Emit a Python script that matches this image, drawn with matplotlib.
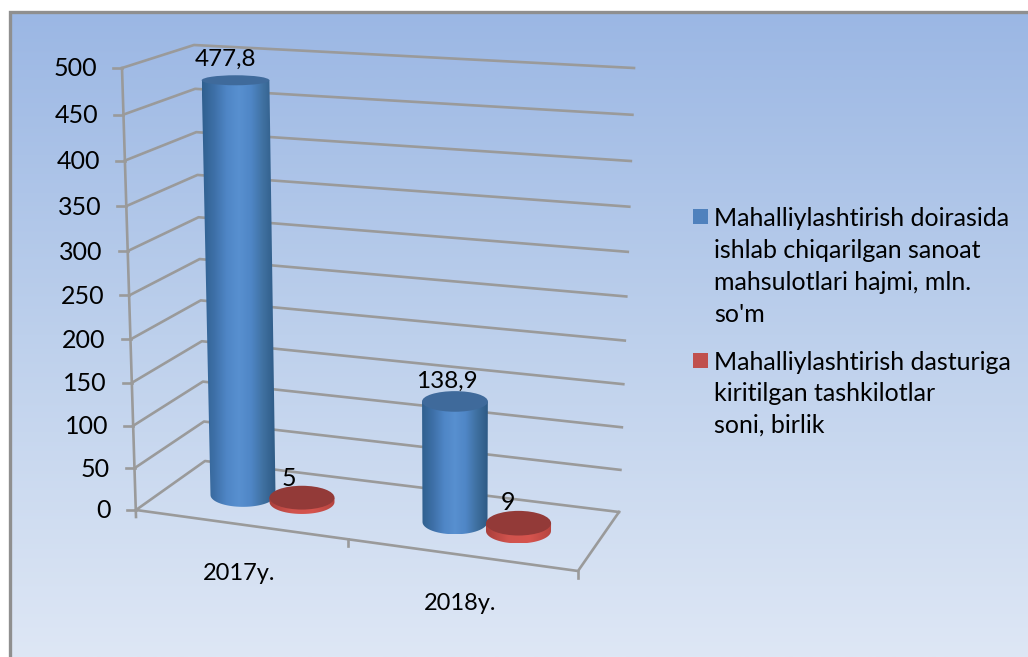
import numpy as np
import matplotlib
matplotlib.use('Agg')
import matplotlib.pyplot as plt
from matplotlib.colors import LinearSegmentedColormap
from matplotlib.patches import Ellipse, PathPatch, Rectangle
from matplotlib.path import Path

plt.rcParams['font.family'] = ['Lato', 'DejaVu Sans']

# chart values
years = ['2017y.', '2018y.']
volume = [477.8, 138.9]
orgs = [5, 9]
volume_labels = ['477,8', '138,9']
orgs_labels = ['5', '9']
ticks = [0, 50, 100, 150, 200, 250, 300, 350, 400, 450, 500]
legend_volume = ['Mahalliylashtirish doirasida', 'ishlab chiqarilgan sanoat',
                 'mahsulotlari hajmi, mln.', "so'm"]
legend_orgs = ['Mahalliylashtirish dasturiga', 'kiritilgan tashkilotlar', 'soni, birlik']

# layout of the fake 3d box, in pixels
W, H = 1028, 657
FRONT_LEFT = ((136, 510), (122, 68))
BACK_LEFT = ((205, 461), (194, 45))
BACK_RIGHT = ((619, 512), (634, 68))
FRONT_RIGHT = (578, 571)
GRID = '#9A9A9A'
GRID_LW = 1.9
PX_PER_UNIT = 0.868
VANISH_X = 460
PERSPECTIVE = 1.06
FONT = 18


def on_edge(edge, value):
    # the walls are seen in perspective, so upper gridlines sit further apart
    t = value / ticks[-1]
    t = t / (t + PERSPECTIVE * (1 - t))
    return (edge[0][0] + (edge[1][0] - edge[0][0]) * t,
            edge[0][1] + (edge[1][1] - edge[0][1]) * t)


def ry_at(y):
    return 5 + (y - 80) * 0.0165


def cylinder(ax, base_x, base_y, value, rx, side_cmap, top_color, zorder):
    height = value * PX_PER_UNIT
    top_y = base_y - height
    top_x = base_x + (base_x - VANISH_X) * height * 8.3e-5
    top_rx = rx * (1 + height * 1e-4)
    ry_b = ry_at(base_y)
    ry_t = ry_at(top_y)

    # side of the cylinder: straight edges and the lower half of the base ellipse
    a = np.linspace(np.pi, 2 * np.pi, 40)
    xs = base_x + rx * np.cos(a)
    ys = base_y - ry_b * np.sin(a)
    verts = [(top_x - top_rx, top_y)] + list(zip(xs, ys)) + [(top_x + top_rx, top_y), (top_x - top_rx, top_y)]
    codes = [Path.MOVETO] + [Path.LINETO] * (len(verts) - 2) + [Path.CLOSEPOLY]
    side = PathPatch(Path(verts, codes), facecolor='none', edgecolor='none', transform=ax.transData)
    ax.add_patch(side)
    left = min(top_x - top_rx, base_x - rx)
    right = max(top_x + top_rx, base_x + rx)
    im = ax.imshow(np.linspace(0, 1, 128).reshape(1, -1), cmap=side_cmap, aspect='auto',
                   extent=(left, right, base_y + ry_b, top_y), zorder=zorder, interpolation='bilinear')
    im.set_clip_path(side)
    ax.add_patch(Ellipse((top_x, top_y), 2 * top_rx, 2 * ry_t, facecolor=top_color,
                         edgecolor='none', zorder=zorder + 0.1))


def main():
    fig = plt.figure(figsize=(W / 100, H / 100), dpi=100, facecolor='white')
    ax = fig.add_axes([0, 0, 1, 1])

    bg = LinearSegmentedColormap.from_list('bg', ['#9BB7E4', '#BDD0EC', '#DEE7F5'])
    ax.imshow(np.linspace(0, 1, 256).reshape(-1, 1), cmap=bg, aspect='auto',
              extent=(10, W, H, 12), zorder=0)
    ax.plot([10, 10, W], [H, 12, 12], color='#8F8F8F', lw=2.4, zorder=1, solid_joinstyle='miter')

    # walls, gridlines, ticks
    for v in ticks:
        p0 = on_edge(FRONT_LEFT, v)
        p1 = on_edge(BACK_LEFT, v)
        p2 = on_edge(BACK_RIGHT, v)
        ax.plot([p0[0], p1[0], p2[0]], [p0[1], p1[1], p2[1]], color=GRID, lw=GRID_LW, zorder=2)
        ax.plot([p0[0] - 9, p0[0]], [p0[1], p0[1]], color=GRID, lw=GRID_LW, zorder=2)
        ax.text(p0[0] - 25, p0[1] + 1, str(v), ha='right', va='center', fontsize=FONT, color='black', zorder=9)
    ax.plot([FRONT_LEFT[0][0], FRONT_LEFT[1][0]], [FRONT_LEFT[0][1] + 7, FRONT_LEFT[1][1]], color=GRID, lw=GRID_LW, zorder=2)

    # floor
    fl, br = FRONT_LEFT[0], BACK_RIGHT[0]
    ax.plot([fl[0], FRONT_RIGHT[0], br[0]], [fl[1], FRONT_RIGHT[1], br[1]], color=GRID, lw=GRID_LW, zorder=2)
    ax.plot([FRONT_RIGHT[0], FRONT_RIGHT[0]], [FRONT_RIGHT[1], FRONT_RIGHT[1] + 7], color=GRID, lw=GRID_LW, zorder=2)
    t = 0.48
    mid = (fl[0] + (FRONT_RIGHT[0] - fl[0]) * t, fl[1] + (FRONT_RIGHT[1] - fl[1]) * t)
    ax.plot([mid[0], mid[0]], [mid[1], mid[1] + 7], color=GRID, lw=GRID_LW, zorder=2)

    blue = LinearSegmentedColormap.from_list('blue', ['#30608F', '#3E70A8', '#4F86C6', '#5890D0', '#4F86C6', '#3F70A0', '#2E5A85'])
    red = LinearSegmentedColormap.from_list('red', ['#A93F3B', '#D0534D', '#D6544E', '#B5443F'])

    blue_base = [(243, 495), (455, 522)]
    red_base = [(302, 502), (518.5, 531)]
    for i in range(len(years)):
        cylinder(ax, blue_base[i][0], blue_base[i][1], volume[i], 32.5, blue, '#3F6A9B', 3 + i * 2)
        cylinder(ax, red_base[i][0], red_base[i][1], orgs[i], 32.5, red, '#933A38', 4 + i * 2)

    # data labels
    ax.text(225, 59, volume_labels[0], ha='center', va='center', fontsize=17.5, zorder=9)
    ax.text(447, 381, volume_labels[1], ha='center', va='center', fontsize=17.5, zorder=9)
    ax.text(289, 478, orgs_labels[0], ha='center', va='center', fontsize=FONT, zorder=9)
    ax.text(508, 502, orgs_labels[1], ha='center', va='center', fontsize=FONT, zorder=9)

    # category labels
    ax.text(239, 574, years[0], ha='center', va='center', fontsize=17, zorder=9)
    ax.text(460, 603, years[1], ha='center', va='center', fontsize=17, zorder=9)

    # legend
    ax.add_patch(Rectangle((693, 209), 15, 15, facecolor='#4F81BD', edgecolor='none', zorder=9))
    ax.add_patch(Rectangle((693, 353), 15, 15, facecolor='#C0504D', edgecolor='none', zorder=9))
    for k, line in enumerate(legend_volume):
        ax.text(714, 218 + k * 32, line, ha='left', va='center', fontsize=FONT, zorder=9)
    for k, line in enumerate(legend_orgs):
        ax.text(714, 362 + k * 31.5, line, ha='left', va='center', fontsize=FONT, zorder=9)

    ax.set_xlim(0, W)
    ax.set_ylim(H, 0)
    ax.axis('off')
    fig.savefig('out.png', dpi=100, facecolor='white')


if __name__ == '__main__':
    main()
